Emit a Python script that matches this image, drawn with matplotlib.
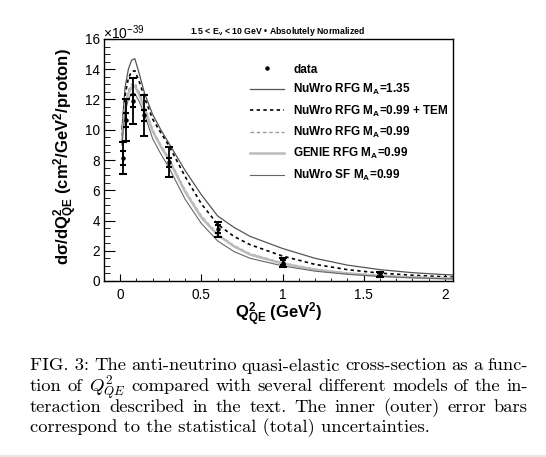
import matplotlib
matplotlib.use("Agg")
import matplotlib.pyplot as plt
from matplotlib.ticker import MultipleLocator
from matplotlib.lines import Line2D
from matplotlib.patches import Rectangle

plt.rcParams['font.family'] = ['Liberation Sans', 'DejaVu Sans']
plt.rcParams['mathtext.fontset'] = 'custom'
plt.rcParams['mathtext.rm'] = 'Liberation Sans'
plt.rcParams['mathtext.it'] = 'Liberation Sans:italic'
plt.rcParams['mathtext.bf'] = 'Liberation Sans:bold'

# measured cross-section (units of 1e-39 cm^2/GeV^2/proton)
q2 = [0.014, 0.037, 0.076, 0.148, 0.30, 0.60, 1.00, 1.60]
xsec = [8.15, 10.65, 11.9, 10.95, 7.85, 3.42, 1.21, 0.42]
err_stat = [0.45, 0.45, 0.40, 0.35, 0.30, 0.25, 0.15, 0.10]
err_tot = [1.05, 1.40, 1.55, 1.35, 1.00, 0.50, 0.30, 0.15]

# model predictions
q2_model = [0.01, 0.03, 0.05, 0.07, 0.09, 0.12, 0.15, 0.2, 0.25, 0.3, 0.4, 0.5,
            0.6, 0.7, 0.8, 1.0, 1.2, 1.4, 1.6, 1.8, 2.0, 2.05]
nuwro_rfg_135 = [10.0, 12.8, 14.0, 14.6, 14.7, 13.6, 12.4, 11.0, 10.0, 9.1, 7.3, 5.7,
                 4.3, 3.55, 2.95, 2.15, 1.5, 1.05, 0.75, 0.55, 0.42, 0.40]
nuwro_rfg_tem = [9.6, 12.3, 13.4, 13.85, 13.9, 13.1, 12.1, 10.7, 9.8, 8.95, 6.9, 5.1,
                 3.75, 2.95, 2.4, 1.65, 1.1, 0.75, 0.52, 0.38, 0.28, 0.26]
nuwro_rfg_099 = [9.3, 11.7, 12.6, 13.0, 13.1, 12.4, 11.5, 10.0, 9.0, 8.1, 6.0, 4.3,
                 3.1, 2.35, 1.8, 1.2, 0.78, 0.52, 0.36, 0.25, 0.18, 0.17]
genie_rfg_099 = [9.2, 11.5, 12.4, 12.8, 12.9, 12.25, 11.4, 9.9, 8.9, 8.0, 5.9, 4.2,
                 3.05, 2.3, 1.75, 1.15, 0.75, 0.5, 0.34, 0.24, 0.17, 0.16]
nuwro_sf_099 = [9.0, 11.2, 12.0, 12.4, 12.4, 11.8, 11.0, 9.4, 8.4, 7.5, 5.4, 3.8,
                2.65, 1.95, 1.5, 1.0, 0.65, 0.44, 0.3, 0.21, 0.15, 0.14]

W, H = 546, 457
fig = plt.figure(figsize=(W / 100, H / 100), dpi=100)
ax = fig.add_axes([104 / W, 1 - 281 / H, 349 / W, 242 / H])

ax.plot(q2_model, nuwro_rfg_135, color='#555555', lw=0.9, label=r'NuWro RFG M$_\mathbf{A}$=1.35')
ax.plot(q2_model, nuwro_rfg_tem, color='black', lw=1.2, ls=(0, (2, 2)),
        label=r'NuWro RFG M$_\mathbf{A}$=0.99 + TEM')
ax.plot(q2_model, nuwro_rfg_099, color='#999999', lw=1.0, ls=(0, (2.5, 2)),
        label=r'NuWro RFG M$_\mathbf{A}$=0.99')
ax.plot(q2_model, genie_rfg_099, color='#bbbbbb', lw=1.8, label=r'GENIE RFG M$_\mathbf{A}$=0.99')
ax.plot(q2_model, nuwro_sf_099, color='#666666', lw=0.8, label=r'NuWro SF M$_\mathbf{A}$=0.99')

# total (outer) and statistical (inner) error bars
ax.errorbar(q2, xsec, yerr=err_tot, fmt='none', ecolor='black', elinewidth=1.3,
            capsize=2.6, capthick=1.5)
ax.errorbar(q2, xsec, yerr=err_stat, fmt='none', ecolor='black', elinewidth=1.3,
            capsize=2.2, capthick=1.5)
ax.plot(q2, xsec, 'o', color='black', ms=2.2)

ax.set_xlim(-0.1, 2.05)
ax.set_ylim(0, 16)
ax.xaxis.set_major_locator(MultipleLocator(0.5))
ax.xaxis.set_minor_locator(MultipleLocator(0.1))
ax.yaxis.set_major_locator(MultipleLocator(2))
ax.yaxis.set_minor_locator(MultipleLocator(0.5))
ax.xaxis.set_major_formatter(matplotlib.ticker.FuncFormatter(lambda v, p: f'{v:g}'))
ax.tick_params(which='both', direction='in', top=False, right=False, labelsize=9.8)
ax.tick_params(axis='y', which='major', length=8, pad=3)
ax.tick_params(axis='y', which='minor', length=4)
ax.tick_params(axis='x', which='major', length=5, pad=5)
ax.tick_params(axis='x', which='minor', length=2.5)
for s in ax.spines.values():
    s.set_linewidth(1.0)

data_handle = Line2D([], [], marker='o', ms=2.2, color='black', ls='none')
handles, labels = ax.get_legend_handles_labels()
ax.legend([data_handle] + handles, ['data'] + labels, loc='upper left',
          bbox_to_anchor=(0.405, 0.918), frameon=False, handlelength=2.9,
          handletextpad=0.75, labelspacing=0.54, borderaxespad=0,
          prop={'weight': 'bold', 'size': 8.5})

fig.text(66 / W, 1 - 157 / H, r'd$\mathbf{\sigma}$/dQ$^\mathbf{2}_\mathbf{QE}$ (cm$^\mathbf{2}$/GeV$^\mathbf{2}$/proton)',
         rotation=90, ha='center', va='center', fontsize=12, fontweight='bold')
fig.text(279 / W, 1 - 315 / H, r'Q$^\mathbf{2}_\mathbf{QE}$ (GeV$^\mathbf{2}$)',
         ha='center', va='center', fontsize=12, fontweight='bold')
fig.text(103 / W, 1 - 33 / H, r'$\times$10$^{-39}$', ha='left', va='center', fontsize=10)
fig.text(190 / W, 1 - 31 / H, r'1.5 < E$_\mathbf{\nu}$ < 10 GeV • Absolutely Normalized',
         ha='left', va='center', fontsize=6.3, fontweight='bold')

# caption, justified like the paper
cap_kw = dict(fontsize=13.4, family='cmr10', math_fontfamily='cm', va='baseline', ha='left')
caption = [
    (['FIG. 3:', 'The', 'anti-neutrino', 'quasi-elastic', 'cross-section', 'as', 'a', 'func-'], True),
    (['tion', 'of', r'$Q^2_{QE}$', 'compared', 'with', 'several', 'different', 'models', 'of', 'the', 'in-'], True),
    (['teraction', 'described', 'in', 'the', 'text.', 'The', 'inner', '(outer)', 'error', 'bars'], True),
    (['correspond to the statistical (total) uncertainties.'], False),
]
baselines = [370.5, 391.2, 411.9, 432.6]
x_left, x_right = 30, 528
renderer = fig.canvas.get_renderer()
for (words, justify), yb in zip(caption, baselines):
    texts = [fig.text(0, 1 - yb / H, w, **cap_kw) for w in words]
    widths = [t.get_window_extent(renderer).width for t in texts]
    gap = (x_right - x_left - sum(widths)) / (len(words) - 1) if justify else 0
    x = x_left
    for t, w in zip(texts, widths):
        t.set_x(x / W)
        x += w + gap

fig.patches.append(Rectangle((0, 0), 1, 2 / H, transform=fig.transFigure,
                             color='#e8e8e8', zorder=-1))

fig.savefig('out.png', dpi=100)
